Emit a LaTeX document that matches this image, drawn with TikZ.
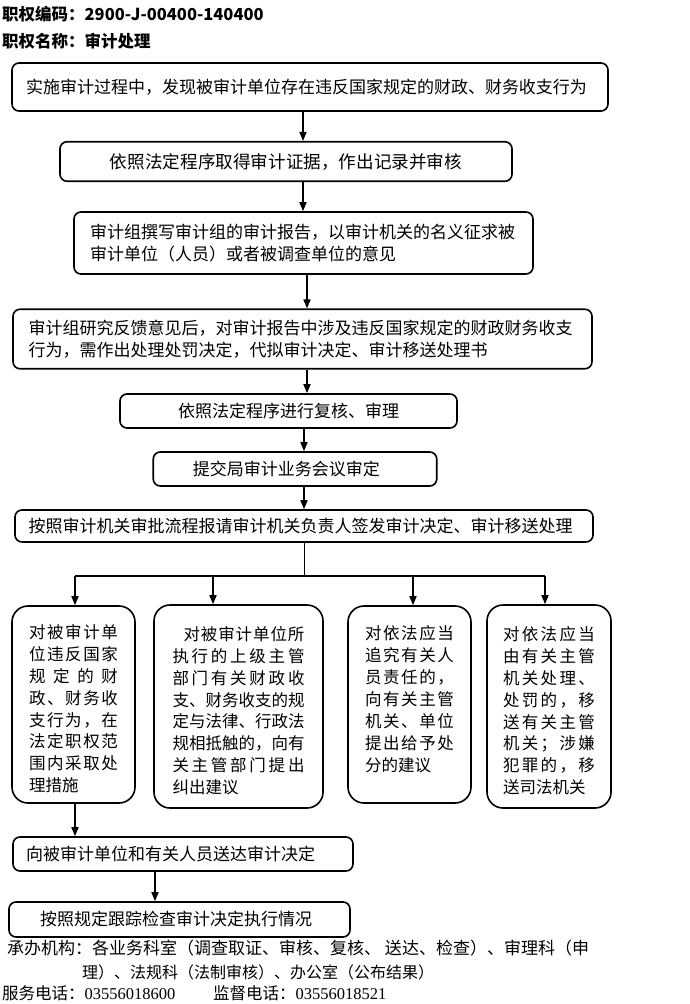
\documentclass[tikz,border=0pt]{standalone}
\usepackage{fontspec}
\usetikzlibrary{arrows.meta}
\newfontfamily\cjk{Noto Sans CJK SC}
\newfontfamily\numf{Liberation Serif}
\def\mygob#1{}
\def\sprA#1#2{#1\ifx\relax#2\expandafter\mygob\else\hfil\expandafter\sprA\fi#2}
\newcommand\spl[1]{\makebox[\linewidth][s]{\sprA#1\relax}}
\newcommand\splw[2]{\makebox[#1][s]{\sprA#2\relax}}
\newcommand\topstrut{\rule{0pt}{22.5pt}}
\newcommand\botstrut{\rule[-12pt]{0pt}{0pt}}
\begin{document}
\begin{tikzpicture}[x=1pt,y=-1pt,
  box/.style={draw, line width=1.6pt, rounded corners=7pt, font=\cjk\fontsize{17}{22}\selectfont, inner ysep=0pt, align=left},
  tall/.style={draw, line width=1.6pt, rounded corners=16pt, font=\cjk\fontsize{16.5}{21.9}\selectfont, inner ysep=0pt, align=left},
  arr/.style={line width=1.6pt, -{Triangle[width=7pt,length=9pt]}},
  head/.style={anchor=west, inner sep=0pt, font=\cjk\bfseries\fontsize{16.5}{20}\selectfont},
  foot/.style={anchor=west, inner sep=0pt, font=\cjk\fontsize{16.5}{20}\selectfont}
  ]
\useasboundingbox (0,0) rectangle (690,1004);

\node[head] (code) at (2,14) {职权编码：2900-J-00400-140400};
\node[head] (name) at (2,41) {职权名称：审计处理};

\node[box, minimum height=48pt, inner xsep=14pt, text width=568pt] (s1) at (310,87)
  {实施审计过程中，发现被审计单位存在违反国家规定的财政、财务收支行为};
\node[box, minimum height=39.5pt, inner xsep=10pt, text width=432pt, align=center, font=\cjk\fontsize{17.6}{22}\selectfont] (s2) at (286,161.5)
  {依照法定程序取得审计证据，作出记录并审核};
\node[box, minimum height=62pt, inner xsep=16pt, text width=427pt] (s3) at (303.5,243)
  {审计组撰写审计组的审计报告，以审计机关的名义征求被\\审计单位（人员）或者被调查单位的意见};
\node[box, minimum height=59.5pt, inner xsep=15.5pt, text width=548pt] (s4) at (302.5,339)
  {审计组研究反馈意见后，对审计报告中涉及违反国家规定的财政财务收支\\行为，需作出处理处罚决定，代拟审计决定、审计移送处理书};
\node[box, minimum height=34pt, inner xsep=10pt, text width=317pt, align=center] (s5) at (288.5,411)
  {依照法定程序进行复核、审理};
\node[box, minimum height=34pt, inner xsep=39.5pt, text width=204.5pt] (s6) at (295,469)
  {提交局审计业务会议审定};
\node[box, minimum height=32pt, inner xsep=13.5pt, text width=551pt] (s7) at (304,526)
  {按照审计机关审批流程报请审计机关负责人签发审计决定、审计移送处理};

\node[tall, minimum height=197pt, inner xsep=17pt, text width=89pt] (t1) at (73.5,704.5)
  {\topstrut\spl{对被审计单}\\\spl{位违反国家}\\\spl{规定的财}\\\spl{政、财务收}\\\spl{支行为，在}\\\spl{法定职权范}\\\spl{围内采取处}\\理措施};
\node[tall, minimum height=203pt, inner xsep=18.5pt, text width=132pt] (t2) at (238.5,706.5)
  {\topstrut\makebox[\linewidth][r]{\splw{121pt}{对被审计单位所}}\\\spl{执行的上级主管}\\\spl{部门有关财政收}\\\spl{支、财务收支的规}\\\spl{定与法律、行政法}\\\spl{规相抵触的，向有}\\\spl{关主管部门提出}\\纠出建议};
\node[tall, minimum height=197pt, inner xsep=17pt, text width=89pt] (t3) at (409.5,704.5)
  {\spl{对依法应当}\\\spl{追究有关人}\\\spl{员责任的，}\\\spl{向有关主管}\\\spl{机关、单位}\\\spl{提出给予处}\\分的建议\botstrut};
\node[tall, minimum height=203pt, inner xsep=16pt, text width=92pt] (t4) at (549,706.5)
  {\topstrut\spl{对依法应当}\\\spl{由有关主管}\\\spl{机关处理、}\\\spl{处罚的，移}\\\spl{送有关主管}\\\spl{机关；涉嫌}\\\spl{犯罪的，移}\\送司法机关};

\node[box, minimum height=34pt, inner xsep=13pt, text width=314pt] (s8) at (183,854)
  {向被审计单位和有关人员送达审计决定};
\node[box, minimum height=35pt, inner xsep=31pt, text width=279pt] (s9) at (179.5,919.5)
  {按照规定跟踪检查审计决定执行情况};

\node[foot, font=\cjk\fontsize{17}{20}\selectfont] (org1) at (7,948) {承办机构：各业务科室（调查取证、审核、复核、 送达、检查）、审理科（申};
\node[foot, font=\cjk\fontsize{16}{20}\selectfont] (org2) at (82,972) {理）、法规科（法制审核）、办公室（公布结果）};
\node[foot] (tel1) at (2,993) {服务电话：{\numf 03556018600}};
\node[foot] (tel2) at (213,993) {监督电话：{\numf 03556018521}};

\coordinate (xa) at (303,0);
\coordinate (xb) at (307,0);
\coordinate (xc) at (304,0);
\coordinate (xd) at (155,0);
\draw[arr] (s1.south -| xa) -- (s2.north -| xa);
\draw[arr] (s2.south -| xa) -- (s3.north -| xa);
\draw[arr] (s3.south -| xb) -- (s4.north -| xb);
\draw[arr] (s4.south -| xb) -- (s5.north -| xb);
\draw[arr] (s5.south -| xc) -- (s6.north -| xc);
\draw[arr] (s6.south -| xc) -- (s7.north -| xc);

\coordinate (bus) at (304,576);
\coordinate (j1) at (75,576);
\coordinate (j2) at (213,576);
\coordinate (j3) at (413,576);
\coordinate (j4) at (545,576);
\draw[line width=1pt] (s7.south -| bus) -- (bus);
\draw[line width=1.6pt] (j1) -- (j4);
\draw[arr] (j1) -- (j1 |- t1.north);
\draw[arr] (j2) -- (j2 |- t2.north);
\draw[arr] (j3) -- (j3 |- t3.north);
\draw[arr] (j4) -- (j4 |- t4.north);

\draw[arr] (t1.south -| j1) -- (s8.north -| j1);
\draw[arr] (s8.south -| xd) -- (s9.north -| xd);
\end{tikzpicture}
\end{document}
